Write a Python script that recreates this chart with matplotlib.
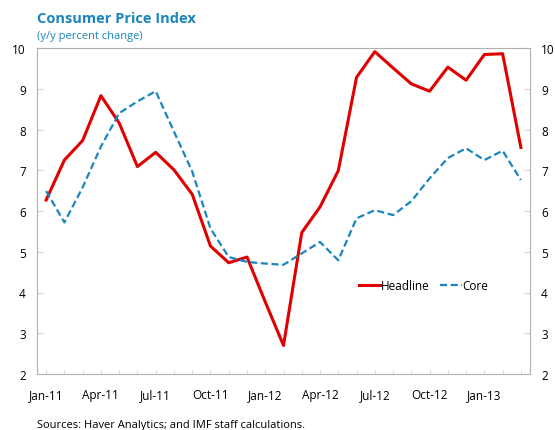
import numpy as np
import matplotlib.pyplot as plt

# monthly data, Jan-11 .. Mar-13
months = ['Jan-11', 'Feb-11', 'Mar-11', 'Apr-11', 'May-11', 'Jun-11', 'Jul-11', 'Aug-11', 'Sep-11',
          'Oct-11', 'Nov-11', 'Dec-11', 'Jan-12', 'Feb-12', 'Mar-12', 'Apr-12', 'May-12', 'Jun-12',
          'Jul-12', 'Aug-12', 'Sep-12', 'Oct-12', 'Nov-12', 'Dec-12', 'Jan-13', 'Feb-13', 'Mar-13']
headline = [6.27, 7.25, 7.73, 8.83, 8.16, 7.09, 7.44, 7.01, 6.41, 5.14, 4.73, 4.87, 3.77, 2.70,
            5.47, 6.10, 6.99, 9.28, 9.91, 9.51, 9.12, 8.94, 9.53, 9.21, 9.84, 9.86, 7.56]
core = [6.49, 5.72, 6.58, 7.58, 8.40, 8.69, 8.94, 7.95, 6.97, 5.57, 4.87, 4.75, 4.71, 4.68,
        4.96, 5.24, 4.79, 5.82, 6.02, 5.90, 6.24, 6.80, 7.30, 7.54, 7.25, 7.48, 6.76]

plt.rcParams['font.family'] = ['Open Sans', 'DejaVu Sans']
blue = '#1a86bd'
red = '#e00000'
grey = '#b0b0b0'

fig = plt.figure(figsize=(5.55, 4.31), dpi=100)
ax = fig.add_axes([37/555, 1-375/431, (530-37)/555, (375-49)/431])

x = np.arange(len(months))
ax.plot(x, headline, color=red, lw=2.2, label='Headline')
ax.plot(x, core, color=blue, lw=1.6, ls=(0, (3.2, 1.6)), label='Core')

ax.set_xlim(-0.5, len(months) - 0.5)
ax.set_ylim(2, 10)
ax.set_yticks(range(2, 11))
ax.set_xticks(x, minor=True)
ax.set_xticks(x[::3])
ax.set_xticklabels(months[::3])

for s in ax.spines.values():
    s.set_color(grey)
ax.tick_params(axis='y', direction='in', length=4, color='#d8d8d8', labelsize=8.5,
               left=True, right=True, labelleft=True, labelright=True, pad=8)
ax.tick_params(axis='x', which='both', direction='in', length=3, color='#d8d8d8', labelsize=8.5, pad=10)

leg = ax.legend(loc='center left', bbox_to_anchor=(0.632, 0.27), ncol=2, frameon=False,
                fontsize=8.5, handlelength=1.8, handletextpad=0.05, columnspacing=0.9)

fig.text(37/555, 1-19/431, 'Consumer Price Index', color=blue, fontsize=10.5,
         fontweight='bold', va='center')
fig.text(37/555, 1-37/431, '(y/y percent change)', color=blue, fontsize=8, va='center')
fig.text(37/555, 1-426/431, 'Sources: Haver Analytics; and IMF staff calculations.',
         fontsize=8, va='center')

fig.savefig('out.png', dpi=100)
